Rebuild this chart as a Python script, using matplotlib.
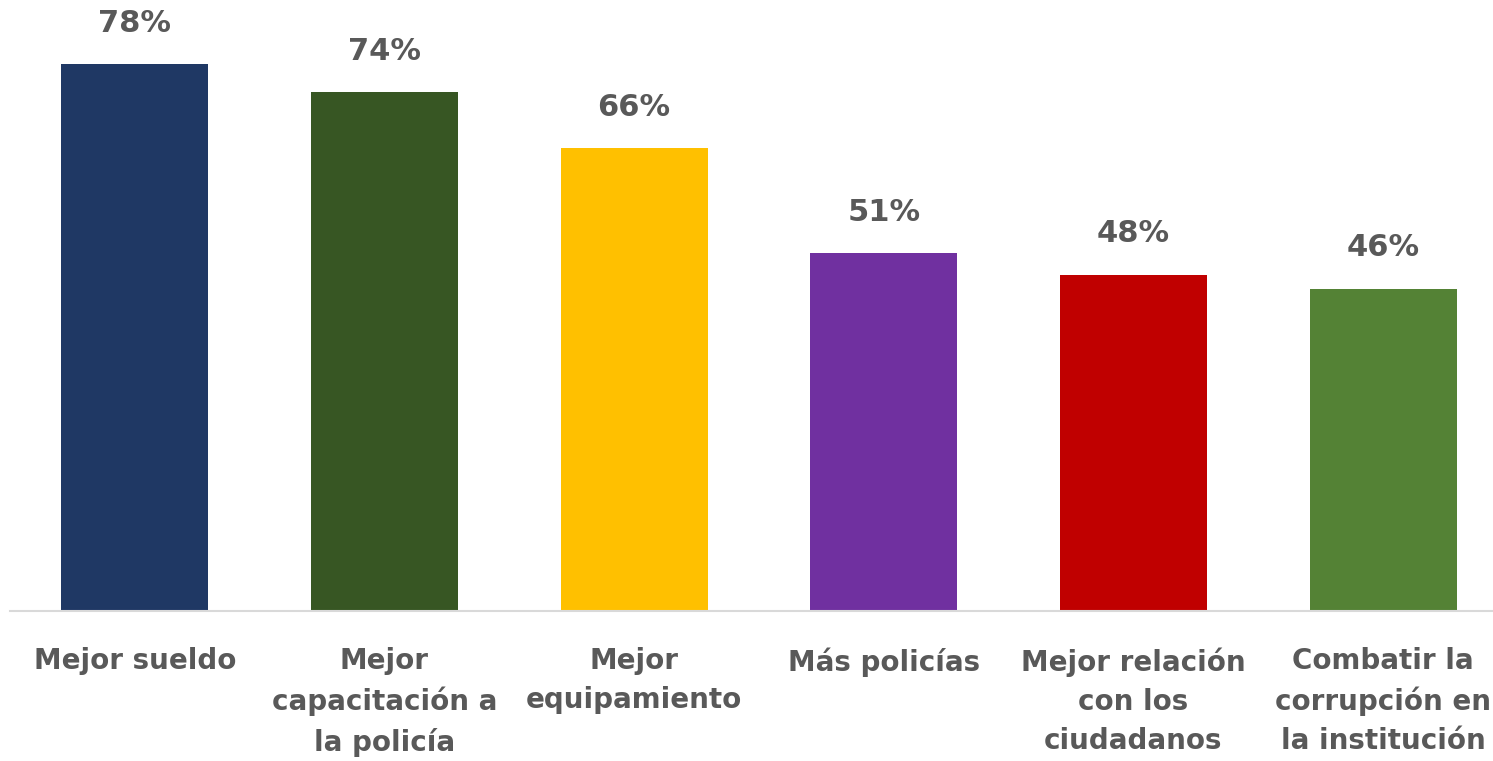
import matplotlib
matplotlib.use("Agg")
import matplotlib.pyplot as plt

categories = ["Mejor sueldo", "Mejor\ncapacitación a\nla policía", "Mejor\nequipamiento",
              "Más policías", "Mejor relación\ncon los\nciudadanos", "Combatir la\ncorrupción en\nla institución"]
values = [78, 74, 66, 51, 48, 46]
colors = ["#1F3864", "#375623", "#FFC000", "#7030A0", "#C00000", "#548235"]

plt.rcParams['font.family'] = ['DejaVu Sans']
text_color = "#595959"

fig = plt.figure(figsize=(14.93, 7.61), dpi=100)
W, H = 1493, 761
ax = fig.add_axes([10 / W, 150 / H, 1498 / W, 611 / H])

x = range(len(categories))
ax.bar(x, values, width=0.59, color=colors, zorder=2)
ax.set_xlim(-0.5, len(categories) - 0.5)
ax.set_ylim(0, 611 / 7.01)

for xi, v in zip(x, values):
    ax.text(xi, v + 3.8, f"{v}%", ha='center', va='bottom', fontsize=22,
            fontweight='bold', color=text_color, clip_on=False)

ax.set_xticks(list(x))
ax.set_xticklabels(categories, fontsize=20, fontweight='bold', color=text_color,
                   linespacing=1.5, va='top')
ax.tick_params(axis='x', length=0, pad=26)
ax.set_yticks([])
for s in ['top', 'right', 'left']:
    ax.spines[s].set_visible(False)
ax.spines['bottom'].set_color("#D9D9D9")
ax.spines['bottom'].set_linewidth(1.5)

fig.savefig("out.png", dpi=100)
